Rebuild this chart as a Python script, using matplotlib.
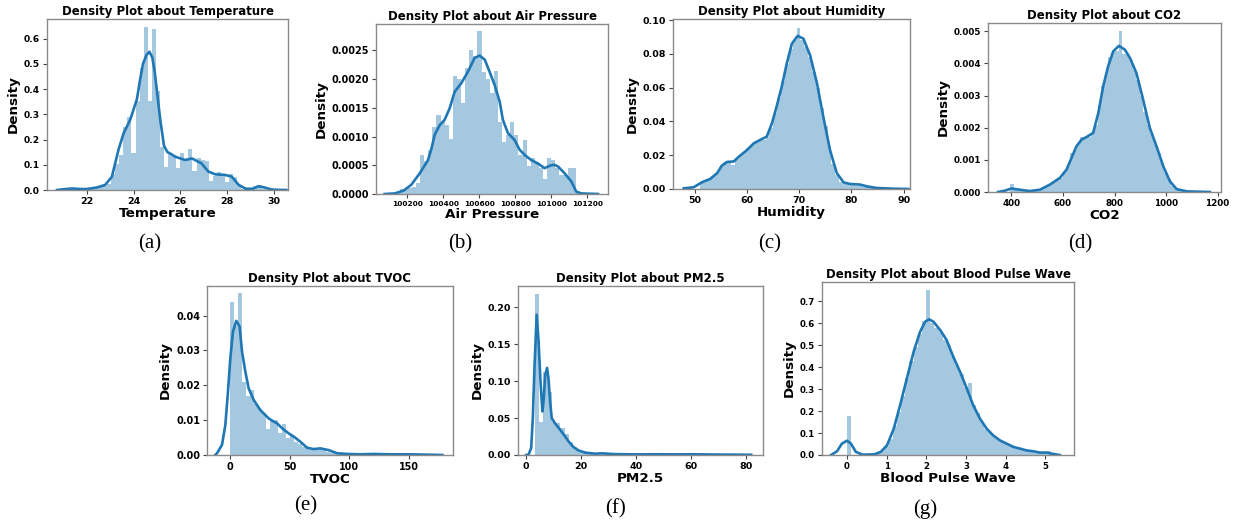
import numpy as np
import matplotlib
matplotlib.use("Agg")
import matplotlib.pyplot as plt
from matplotlib.ticker import FormatStrFormatter

# ---------------- data ----------------
# (a) Temperature
temp_bin_start, temp_bin_width = 20.95, 0.174
temp_heights = [0.006, 0.0, 0.003, 0.006, 0.003, 0.0, 0.003, 0.003, 0.006, 0.01,
                0.015, 0.025, 0.062, 0.105, 0.14, 0.248, 0.29, 0.148, 0.353, 0.482,
                0.645, 0.354, 0.637, 0.392, 0.172, 0.093, 0.145, 0.139, 0.086, 0.148,
                0.12, 0.161, 0.075, 0.125, 0.12, 0.115, 0.035, 0.055, 0.07, 0.055,
                0.03, 0.065, 0.05, 0.02, 0.005, 0.0, 0.005, 0.015, 0.018, 0.005]
temp_kde_x = [20.72, 21.0, 21.36, 21.7, 22.0, 22.43, 22.78, 23.07, 23.35, 23.57, 23.85,
              24.0, 24.14, 24.28, 24.4, 24.55, 24.68, 24.8, 24.9, 25.0, 25.14, 25.3,
              25.45, 25.6, 25.78, 26.2, 26.5, 26.9, 27.2, 27.5, 27.9, 28.2, 28.5, 28.8,
              29.1, 29.35, 29.6, 29.9, 30.2, 30.54]
temp_kde_y = [0.0, 0.003, 0.006, 0.004, 0.004, 0.01, 0.02, 0.053, 0.159, 0.225, 0.278,
              0.32, 0.36, 0.44, 0.50, 0.535, 0.548, 0.525, 0.47, 0.39, 0.278, 0.175,
              0.15, 0.143, 0.132, 0.119, 0.125, 0.106, 0.073, 0.062, 0.06, 0.053, 0.02,
              0.005, 0.005, 0.015, 0.01, 0.002, 0.0005, 0.0]

# (b) Air Pressure
pres_bin_start, pres_bin_width = 100134, 22.78
pres_heights = [0.00003, 0.00008, 0.0001, 0.00011, 0.00012, 0.0002, 0.00068, 0.00058,
                0.00077, 0.00117, 0.00137, 0.00126, 0.0012, 0.00096, 0.00205, 0.002,
                0.00158, 0.0022, 0.0025, 0.0024, 0.00283, 0.00213, 0.002, 0.00176,
                0.00215, 0.00126, 0.0009, 0.00103, 0.00126, 0.00103, 0.00068, 0.00094,
                0.00048, 0.00062, 0.00056, 0.00045, 0.00026, 0.00063, 0.0006, 0.00045,
                0.00033, 0.00033, 0.00045, 0.00045, 0.00003]
pres_kde_x = [100074, 100130, 100180, 100222, 100269, 100315, 100335, 100352, 100380,
              100407, 100435, 100463, 100500, 100537, 100574, 100602, 100630, 100657,
              100685, 100713, 100731, 100759, 100796, 100824, 100852, 100889, 100926,
              100963, 100990, 101015, 101037, 101074, 101111, 101139, 101167, 101210,
              101259]
pres_kde_y = [0.0, 0.00001, 0.00006, 0.00016, 0.00036, 0.00059, 0.0008, 0.00103, 0.0012,
              0.00129, 0.00149, 0.00178, 0.00193, 0.00213, 0.00237, 0.00241, 0.00234,
              0.00213, 0.0019, 0.00161, 0.00129, 0.00106, 0.00094, 0.00077, 0.00068,
              0.00059, 0.00053, 0.00045, 0.00049, 0.00051, 0.00048, 0.00036, 0.00022,
              0.00004, 0.00001, 0.000005, 0.0]

# (c) Humidity
hum_bin_start, hum_bin_width = 51.0, 0.74
hum_heights = [0.004, 0.005, 0.006, 0.0075, 0.0095, 0.013, 0.016, 0.0165, 0.014, 0.0175,
               0.02, 0.022, 0.024, 0.026, 0.0275, 0.029, 0.029, 0.031, 0.036, 0.045,
               0.054, 0.064, 0.074, 0.083, 0.088, 0.095, 0.088, 0.084, 0.078, 0.069,
               0.06, 0.048, 0.037, 0.025, 0.015, 0.008, 0.004, 0.003, 0.003, 0.003,
               0.002, 0.002, 0.001, 0.001, 0.0005, 0.0005, 0.0, 0.0, 0.0, 0.0003]
hum_kde_x = [47.9, 49.8, 51.4, 53.0, 54.3, 55.2, 56.2, 57.5, 58.4, 60.0, 61.3, 62.5,
             63.8, 64.8, 65.7, 66.7, 67.6, 68.6, 69.7, 70.8, 72.1, 73.4, 74.6, 75.9,
             77.2, 78.5, 79.7, 81.7, 82.9, 84.8, 88.0, 90.9]
hum_kde_y = [0.0004, 0.001, 0.004, 0.006, 0.0094, 0.0138, 0.016, 0.0163, 0.019, 0.023,
             0.027, 0.029, 0.031, 0.039, 0.049, 0.061, 0.074, 0.086, 0.0906, 0.089,
             0.079, 0.0626, 0.043, 0.023, 0.0094, 0.0039, 0.003, 0.0026, 0.0016,
             0.0006, 0.0002, 0.0]

# (d) CO2
co2_bin_start, co2_bin_width = 395, 13.6
co2_heights = [0.00025, 0.00008, 0.00005, 0.00004, 0.00003, 0.00003, 0.00003, 0.00005,
               0.00007, 0.00012, 0.00017, 0.00025, 0.00032, 0.00038, 0.00045, 0.00058,
               0.0008, 0.0012, 0.0013, 0.0015, 0.0017, 0.0017, 0.0017, 0.00185, 0.0021,
               0.0027, 0.0033, 0.0037, 0.0042, 0.0044, 0.0044, 0.005, 0.0043, 0.0043,
               0.0041, 0.0038, 0.0035, 0.003, 0.0025, 0.0021, 0.0018, 0.0015, 0.0012,
               0.0009, 0.0006, 0.0004, 0.0002, 0.0001, 0.00005, 0.00002]
co2_kde_x = [348, 374, 400, 432, 471, 510, 549, 588, 614, 633, 652, 672, 691, 717, 737,
             756, 775, 795, 817, 840, 860, 885, 911, 937, 963, 989, 1015, 1041, 1080,
             1170]
co2_kde_y = [0.0, 0.00004, 0.00011, 0.00007, 0.00003, 0.00007, 0.00023, 0.00044, 0.0007,
             0.00106, 0.00142, 0.00163, 0.00171, 0.00184, 0.00246, 0.00329, 0.00391,
             0.00438, 0.00455, 0.00443, 0.00417, 0.0037, 0.00287, 0.00199, 0.00142,
             0.0008, 0.00033, 0.00009, 0.00002, 0.0]

# (e) TVOC
tvoc_bin_start, tvoc_bin_width = 0.0, 3.36
tvoc_heights = [0.044, 0.037, 0.0464, 0.021, 0.017, 0.0187, 0.0146, 0.0131, 0.012, 0.0074,
                0.01, 0.01, 0.0062, 0.0089, 0.0048, 0.0057, 0.0038, 0.0033, 0.0024, 0.0017,
                0.0015, 0.0015, 0.0016, 0.0014, 0.001, 0.0006, 0.0004, 0.0003, 0.0002,
                0.0001, 0.0001, 0.0, 0.0001, 0.0002, 0.0002, 0.0001, 0.0001, 0.0, 0.0001,
                0.0001, 0.0001, 0.0, 0.0, 0.0001, 0.0, 0.0, 0.0001, 0.0, 0.0, 0.0001]
tvoc_kde_x = [-12.6, -11.2, -7, -4.2, -2.2, 0, 2.2, 5, 7.8, 9.8, 12.6, 15.4, 19.6, 25.2,
              32.2, 36.4, 39.2, 43.4, 49, 53.2, 58.8, 64.4, 70, 75.6, 82.6, 89.6, 98,
              109, 120, 134, 148, 165, 178]
tvoc_kde_y = [0.0, 0.0005, 0.0029, 0.0086, 0.0172, 0.0278, 0.0354, 0.0385, 0.0368,
              0.0297, 0.0239, 0.0191, 0.0158, 0.0129, 0.0105, 0.0096, 0.0091, 0.0077,
              0.0062, 0.0053, 0.0038, 0.0021, 0.0017, 0.0019, 0.0014, 0.0005, 0.0003,
              0.0002, 0.0003, 0.0002, 0.0002, 0.0001, 0.0]

# (f) PM2.5
pm_bin_start, pm_bin_width = 3.2, 1.54
pm_heights = [0.2176, 0.0446, 0.113, 0.0847, 0.0446, 0.044, 0.036, 0.028, 0.018, 0.011,
              0.007, 0.005, 0.003, 0.002, 0.002, 0.003, 0.002, 0.001, 0.001, 0.001,
              0.0008, 0.0006, 0.0008, 0.001, 0.0008, 0.0006, 0.0006, 0.0008, 0.0006,
              0.0004, 0.0004, 0.0006, 0.0004, 0.0004, 0.0006, 0.0008, 0.0006, 0.0004,
              0.0004, 0.0004, 0.0002, 0.0002, 0.0002, 0.0002, 0.0002, 0.0, 0.0, 0.0,
              0.0, 0.0002]
pm_kde_x = [0.0, 0.85, 1.8, 2.4, 3.0, 3.8, 4.5, 5.2, 5.9, 6.4, 6.9, 7.6, 8.1, 8.7, 9.3,
            10.5, 12.4, 14.2, 15.4, 17.2, 19.0, 21.5, 25.1, 27.6, 32, 40, 48, 55, 60,
            70, 82]
pm_kde_y = [0.0, 0.0005, 0.0095, 0.05, 0.118, 0.19, 0.154, 0.1, 0.059, 0.077, 0.108,
            0.118, 0.104, 0.0725, 0.05, 0.043, 0.034, 0.025, 0.0185, 0.0108, 0.0063,
            0.0032, 0.0018, 0.0023, 0.0012, 0.0008, 0.001, 0.0008, 0.001, 0.0006, 0.0003]

# (g) Blood Pulse Wave
bpw_bin_start, bpw_bin_width = 0.0, 0.105
bpw_heights = [0.1766, 0.0, 0.0, 0.0, 0.0, 0.002, 0.004, 0.008, 0.018, 0.04, 0.075, 0.13,
               0.198, 0.27, 0.35, 0.43, 0.49, 0.55, 0.61, 0.752, 0.60, 0.58, 0.56, 0.525,
               0.5, 0.45, 0.41, 0.37, 0.31, 0.326, 0.23, 0.19, 0.15, 0.12, 0.1, 0.085,
               0.07, 0.058, 0.05, 0.04, 0.034, 0.029, 0.024, 0.02, 0.016, 0.012, 0.008,
               0.008, 0.02, 0.004]
bpw_kde_x = [-0.4, -0.25, -0.126, 0, 0.1, 0.226, 0.39, 0.69, 0.85, 1.01, 1.18, 1.34, 1.51,
             1.68, 1.84, 1.97, 2.07, 2.18, 2.35, 2.51, 2.68, 2.85, 3.02, 3.18, 3.35, 3.52,
             3.68, 3.85, 4.02, 4.19, 4.36, 4.52, 4.69, 4.86, 5.03, 5.19, 5.36]
bpw_kde_y = [0.0, 0.017, 0.052, 0.065, 0.052, 0.014, 0.0015, 0.003, 0.014, 0.044, 0.12,
             0.227, 0.349, 0.47, 0.56, 0.607, 0.618, 0.607, 0.569, 0.524, 0.447, 0.379,
             0.303, 0.227, 0.166, 0.12, 0.09, 0.067, 0.052, 0.037, 0.029, 0.021, 0.017,
             0.011, 0.011, 0.005, 0.0]

# tick values / labels
temp_xticks = [22, 24, 26, 28, 30]
temp_yticks = [0.0, 0.1, 0.2, 0.3, 0.4, 0.5, 0.6]
pres_xticks = [100200, 100400, 100600, 100800, 101000, 101200]
pres_yticks = [0.0, 0.0005, 0.001, 0.0015, 0.002, 0.0025]
hum_xticks = [50, 60, 70, 80, 90]
hum_yticks = [0.0, 0.02, 0.04, 0.06, 0.08, 0.10]
co2_xticks = [400, 600, 800, 1000, 1200]
co2_yticks = [0.0, 0.001, 0.002, 0.003, 0.004, 0.005]
tvoc_xticks = [0, 50, 100, 150]
tvoc_yticks = [0.0, 0.01, 0.02, 0.03, 0.04]
pm_xticks = [0, 20, 40, 60, 80]
pm_yticks = [0.0, 0.05, 0.10, 0.15, 0.20]
bpw_xticks = [0, 1, 2, 3, 4, 5]
bpw_yticks = [0.0, 0.1, 0.2, 0.3, 0.4, 0.5, 0.6, 0.7]

# ---------------- drawing ----------------
W, H = 1237, 525
fig = plt.figure(figsize=(W / 100, H / 100), dpi=100)
BAR = "#1f77b4"


def rect(l, r, t, b):
    return [l / W, (H - b) / H, (r - l) / W, (b - t) / H]


def panel(box, name, start, width, heights, kx, ky, xlim, ylim, xticks, yticks,
          yfmt, xfs, yfs, caption, cap_xy):
    ax = fig.add_axes(box)
    edges = start + width * np.arange(len(heights))
    ax.bar(edges, heights, width=width, align="edge", color=BAR, alpha=0.4,
           linewidth=0)
    ax.plot(kx, ky, color=BAR, lw=1.9, solid_joinstyle="round")
    ax.set_xlim(*xlim)
    ax.set_ylim(*ylim)
    ax.set_xticks(xticks)
    ax.set_yticks(yticks)
    ax.yaxis.set_major_formatter(FormatStrFormatter(yfmt))
    ax.tick_params(axis="x", labelsize=xfs, length=3, width=0.8, pad=2, color="#444444")
    ax.tick_params(axis="y", labelsize=yfs, length=3, width=0.8, pad=2, color="#444444")
    for lab in ax.get_xticklabels() + ax.get_yticklabels():
        lab.set_fontweight("bold")
    for sp in ax.spines.values():
        sp.set_color("#8a8a8a")
        sp.set_linewidth(1.0)
    ax.set_title("Density Plot about " + name, fontsize=8.5, fontweight="bold", pad=3)
    ax.set_xlabel(name, fontsize=9.7, fontweight="bold", labelpad=1)
    ax.set_ylabel("Density", fontsize=9.7, fontweight="bold", labelpad=3)
    fig.text(cap_xy[0] / W, 1 - cap_xy[1] / H, caption, ha="center", va="center",
             fontsize=15, family="Liberation Serif")
    return ax


panel(rect(47, 288, 19, 190), "Temperature", temp_bin_start, temp_bin_width,
      temp_heights, temp_kde_x, temp_kde_y, (20.29, 30.61), (0, 0.678),
      temp_xticks, temp_yticks, "%.1f", 6.8, 6.6, "(a)", (150, 244))
panel(rect(376, 608, 24, 194), "Air Pressure", pres_bin_start, pres_bin_width,
      pres_heights, pres_kde_x, pres_kde_y, (100026, 101315), (0, 0.00296),
      pres_xticks, pres_yticks, "%.4f", 5.3, 7.0, "(b)", (460, 244))
panel(rect(673, 910, 19, 189), "Humidity", hum_bin_start, hum_bin_width,
      hum_heights, hum_kde_x, hum_kde_y, (45.86, 91.2), (0, 0.1006),
      hum_xticks, hum_yticks, "%.2f", 6.8, 6.8, "(c)", (770, 244))
panel(rect(988, 1221, 23, 192), "CO2", co2_bin_start, co2_bin_width,
      co2_heights, co2_kde_x, co2_kde_y, (309, 1213), (0, 0.00526),
      co2_xticks, co2_yticks, "%.3f", 6.3, 6.3, "(d)", (1080, 244))
panel(rect(207, 453, 286, 455), "TVOC", tvoc_bin_start, tvoc_bin_width,
      tvoc_heights, tvoc_kde_x, tvoc_kde_y, (-19.6, 187), (0, 0.0485),
      tvoc_xticks, tvoc_yticks, "%.2f", 6.9, 7.0, "(e)", (306, 506))
panel(rect(518, 763, 286, 455), "PM2.5", pm_bin_start, pm_bin_width,
      pm_heights, pm_kde_x, pm_kde_y, (-3.0, 86.3), (0, 0.229),
      pm_xticks, pm_yticks, "%.2f", 6.8, 6.8, "(f)", (616, 509))
panel(rect(822, 1074, 282, 455), "Blood Pulse Wave", bpw_bin_start, bpw_bin_width,
      bpw_heights, bpw_kde_x, bpw_kde_y, (-0.628, 5.72), (0, 0.788),
      bpw_xticks, bpw_yticks, "%.1f", 6.2, 6.2, "(g)", (925, 509))

fig.savefig("out.png", dpi=100)
